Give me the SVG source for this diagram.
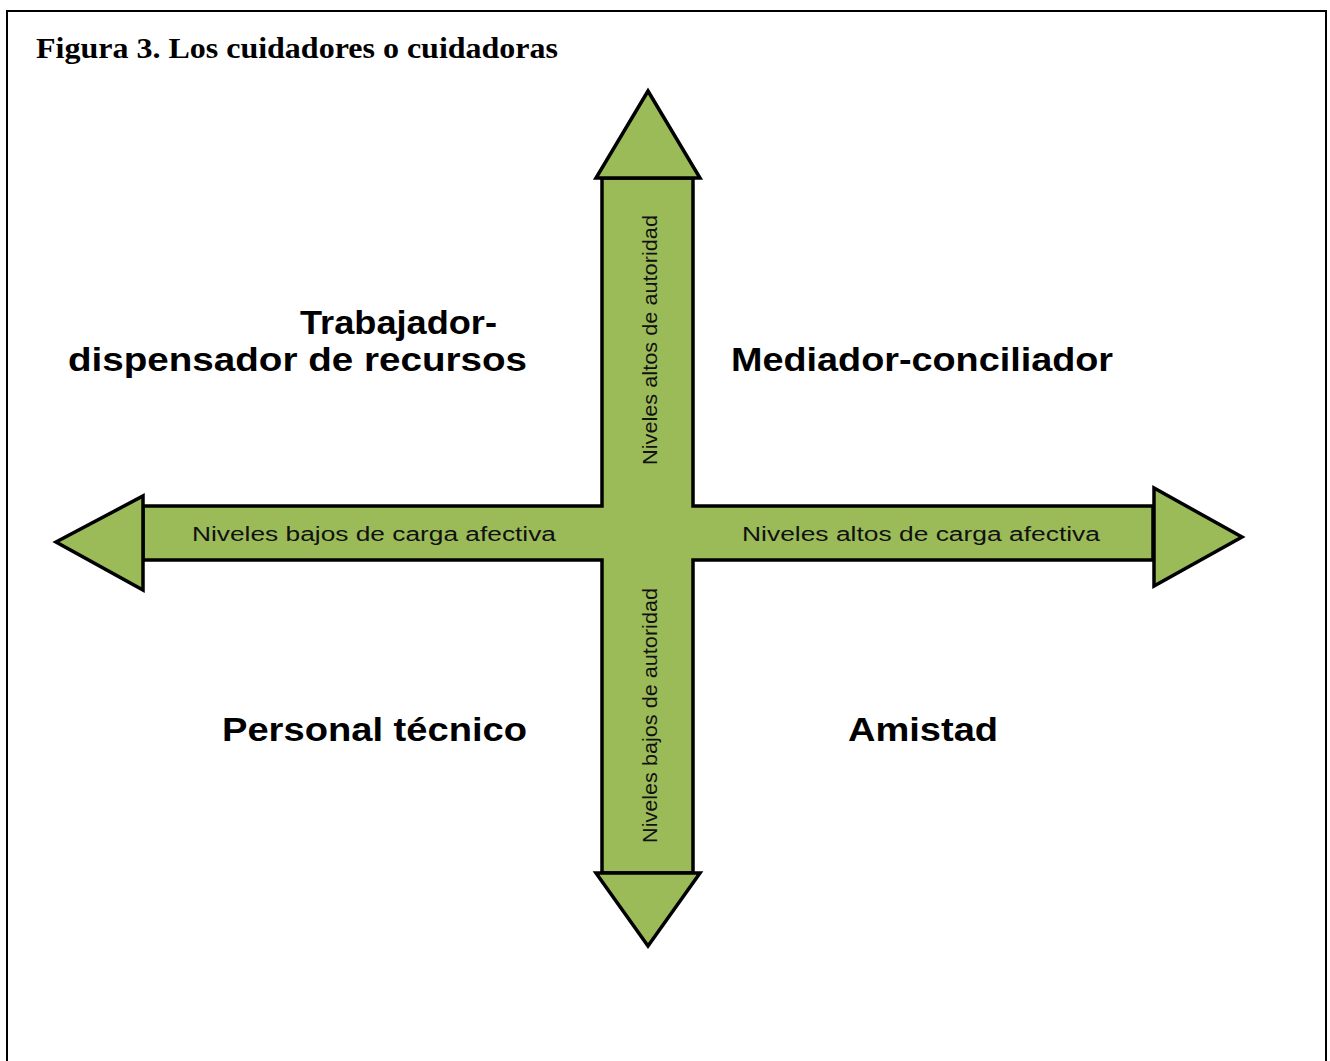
<svg xmlns="http://www.w3.org/2000/svg" width="1330" height="1061" viewBox="0 0 1330 1061">
<style>
.frame{fill:none;stroke:#000;stroke-width:2}
.shape{fill:#9BBB59;stroke:#000;stroke-width:3.5;stroke-linejoin:miter}
.title{font-family:"Liberation Serif","Times New Roman",serif;font-weight:bold;font-size:29px;fill:#000}
.quad{font-family:"Liberation Sans",Arial,sans-serif;font-weight:bold;font-size:34px;fill:#000}
.lab{font-family:"Liberation Sans",Arial,sans-serif;font-size:20px;fill:#111}
.vlab{font-family:"Liberation Sans",Arial,sans-serif;font-size:21px;fill:#111}
</style>
<rect width="1330" height="1061" fill="#fff"/>
<path class="frame" d="M7,1061 V11 H1326 V1061"/>
<text class="title" x="36" y="58" textLength="522" lengthAdjust="spacingAndGlyphs">Figura 3. Los cuidadores o cuidadoras</text>
<g id="connectors">
<polygon class="shape" points="602,178 693,178 693,506 1153,506 1153,560 693,560 693,873 602,873 602,560 143,560 143,506 602,506"/>
<polygon class="shape" points="596,178 700,178 648,91"/>
<polygon class="shape" points="596,873 700,873 648,946"/>
<polygon class="shape" points="143,496 143,590 56,542"/>
<polygon class="shape" points="1154,488 1154,586 1242,537"/>
<text class="lab" x="192" y="541" textLength="364" lengthAdjust="spacingAndGlyphs">Niveles bajos de carga afectiva</text>
<text class="lab" x="742" y="541" textLength="358" lengthAdjust="spacingAndGlyphs">Niveles altos de carga afectiva</text>
<text class="vlab" transform="translate(657,465) rotate(-90)" textLength="250" lengthAdjust="spacingAndGlyphs">Niveles altos de autoridad</text>
<text class="vlab" transform="translate(657,843) rotate(-90)" textLength="255" lengthAdjust="spacingAndGlyphs">Niveles bajos de autoridad</text>
</g>
<g id="node-trabajador">
<text class="quad" x="300" y="334" textLength="197" lengthAdjust="spacingAndGlyphs">Trabajador-</text>
<text class="quad" x="68" y="371" textLength="459" lengthAdjust="spacingAndGlyphs">dispensador de recursos</text>
</g>
<g id="node-mediador">
<text class="quad" x="731" y="371" textLength="382" lengthAdjust="spacingAndGlyphs">Mediador-conciliador</text>
</g>
<g id="node-personal">
<text class="quad" x="222" y="741" textLength="305" lengthAdjust="spacingAndGlyphs">Personal técnico</text>
</g>
<g id="node-amistad">
<text class="quad" x="848" y="741" textLength="150" lengthAdjust="spacingAndGlyphs">Amistad</text>
</g>
</svg>
